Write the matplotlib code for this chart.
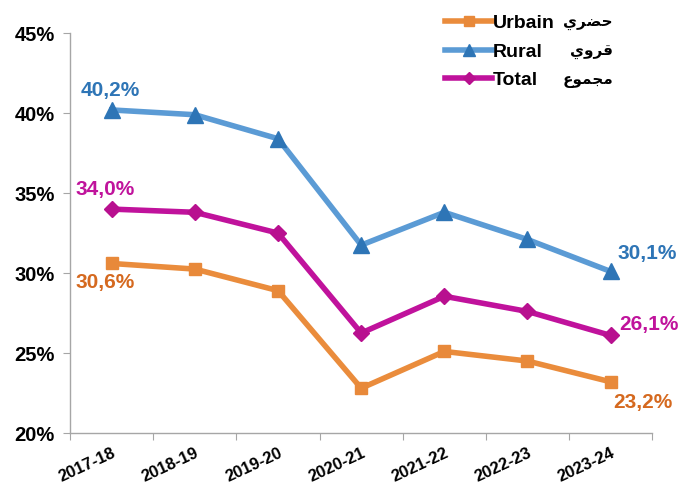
import numpy as np
import matplotlib
matplotlib.use("Agg")
import matplotlib.pyplot as plt

categories = ["2017-18", "2018-19", "2019-20", "2020-21", "2021-22", "2022-23", "2023-24"]
urbain = [30.6, 30.25, 28.9, 22.8, 25.1, 24.5, 23.2]
rural = [40.2, 39.9, 38.4, 31.75, 33.8, 32.1, 30.1]
total = [34.0, 33.8, 32.5, 26.25, 28.55, 27.6, 26.1]
yticks = [20, 25, 30, 35, 40, 45]

series_fr = ["Urbain", "Rural", "Total"]
# Arabic in presentation forms (visual order) since matplotlib does not shape Arabic
series_ar = ["\uFEF1\uFEAE\uFEC0\uFEA3", "\uFEF1\uFEED\uFEAE\uFED7", "\uFEC9\uFEEE\uFEE4\uFEA0\uFEE3"]

plt.rcParams['font.family'] = ['Liberation Sans', 'DejaVu Sans']

fig = plt.figure(figsize=(6.88, 4.88), dpi=100)
ax = fig.add_axes([0.102, 0.1127, 0.846, 0.8193])

x = np.arange(len(categories))

c_or, c_or_m, c_or_t = '#EA8C3C', '#E8893A', '#D5691F'
c_bl, c_bl_m, c_bl_t = '#5B9BD5', '#2E75B6', '#2E75B6'
c_mg, c_mg_m, c_mg_t = '#C0129C', '#B8108F', '#C0139C'

l1, = ax.plot(x, urbain, color=c_or, lw=4, marker='s', ms=9, mfc=c_or_m, mec=c_or_m,
              label=series_fr[0], zorder=3)
l2, = ax.plot(x, rural, color=c_bl, lw=4, marker='^', ms=11, mfc=c_bl_m, mec=c_bl_m,
              label=series_fr[1], zorder=3)
l3, = ax.plot(x, total, color=c_mg, lw=4, marker='D', ms=8, mfc=c_mg_m, mec=c_mg_m,
              label=series_fr[2], zorder=3)

def fmt(v):
    return f"{v:.1f}%".replace('.', ',')

fs = 15
ax.annotate(fmt(rural[0]), (x[0], rural[0]), xytext=(-1, 7), textcoords='offset points',
            ha='center', va='bottom', color=c_bl_t, fontsize=fs, fontweight='bold')
ax.annotate(fmt(total[0]), (x[0], total[0]), xytext=(-5, 7), textcoords='offset points',
            ha='center', va='bottom', color=c_mg_t, fontsize=fs, fontweight='bold')
ax.annotate(fmt(urbain[0]), (x[0], urbain[0]), xytext=(-5, -7), textcoords='offset points',
            ha='center', va='top', color=c_or_t, fontsize=fs, fontweight='bold')
ax.annotate(fmt(rural[-1]), (x[-1], rural[-1]), xytext=(5, 6), textcoords='offset points',
            ha='left', va='bottom', color=c_bl_t, fontsize=fs, fontweight='bold')
ax.annotate(fmt(total[-1]), (x[-1], total[-1]), xytext=(6, 1), textcoords='offset points',
            ha='left', va='bottom', color=c_mg_t, fontsize=fs, fontweight='bold')
ax.annotate(fmt(urbain[-1]), (x[-1], urbain[-1]), xytext=(2, -8), textcoords='offset points',
            ha='left', va='top', color=c_or_t, fontsize=fs, fontweight='bold')

ax.set_xlim(-0.5, len(categories) - 0.5)
ax.set_ylim(20, 45)
ax.set_yticks(yticks)
ax.set_yticklabels([f"{t}%" for t in yticks], fontsize=14.5, fontweight='bold')
ax.set_xticks(np.arange(-0.5, len(categories), 1))
ax.set_xticklabels([])
ax.set_xticks(x, minor=True)
ax.set_xticklabels(categories, minor=True, rotation=25, ha='right', rotation_mode='anchor',
                   fontsize=12, fontweight='bold')
ax.tick_params(axis='x', which='minor', length=0, pad=9)
ax.tick_params(axis='x', which='major', length=5, color='#A6A6A6')
ax.tick_params(axis='y', length=5, color='#A6A6A6', pad=6)
for s in ['top', 'right']:
    ax.spines[s].set_visible(False)
for s in ['left', 'bottom']:
    ax.spines[s].set_color('#A6A6A6')
    ax.spines[s].set_linewidth(1)

leg = fig.legend(handles=[l1, l2, l3], loc='upper left', bbox_to_anchor=(0.636, 0.986),
                 frameon=False, prop={'weight': 'bold', 'size': 14}, handlelength=2.4,
                 handletextpad=0.05, labelspacing=0.55, borderaxespad=0, markerscale=0.75)

fig.canvas.draw()
for t, ar in zip(leg.get_texts(), series_ar):
    bb = t.get_window_extent()
    yc = (bb.y0 + bb.y1) / 2 / fig.bbox.height
    fig.text(613 / 688, yc, ar, ha='right', va='center', fontsize=11, fontweight='bold',
             family=['DejaVu Sans'])

fig.savefig("out.png", dpi=100)
